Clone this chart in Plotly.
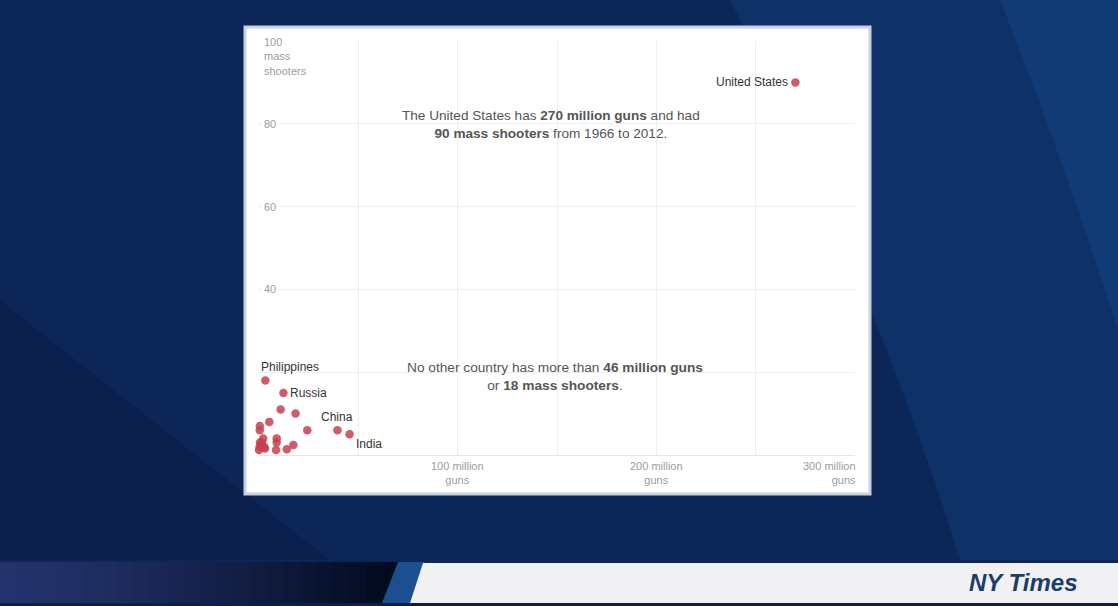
import plotly.graph_objects as go

# guns (millions) vs mass shooters 1966-2012
countries = ["United States", "Philippines", "Russia", "", "", "", "", "", "",
             "China", "India", "", "", "", "", "", "", "", "", "", "", "", "", ""]
guns = [270, 3.2, 12.3, 10.9, 18.4, 5.2, 0.4, 0.4, 24.3,
        39.5, 45.6, 2.1, 8.9, 8.9, 0.5, 1.5, 0.3, 1.2, 2.6, 17.3, 14.0, 8.6, 0.0, 3.0]
shooters = [90, 18, 15, 11, 10, 8, 7, 6, 6,
            6, 5, 4, 4, 3, 3, 3, 2, 2, 2, 2.4, 1.4, 1.2, 1.2, 1.6]

x_ticks = [100, 200, 300]
x_tick_labels = ["100 million<br>guns", "200 million<br>guns", "300 million<br>guns"]
y_ticks = [40, 60, 80, 100]
y_tick_labels = ["40", "60", "80", "100<br>mass<br>shooters"]

W, H = 1118, 606
L, R, T, B = 259, 855, 41, 455   # plot area in pixels
FONT = "Liberation Sans"


def px(x):
    return (x - L) / (R - L)


def py(y):
    return (B - y) / (B - T)


def mix(c1, c2, t):
    a = [int(c1[i:i + 2], 16) for i in (1, 3, 5)]
    b = [int(c2[i:i + 2], 16) for i in (1, 3, 5)]
    return "#%02x%02x%02x" % tuple(round(p + (q - p) * t) for p, q in zip(a, b))


fig = go.Figure()

fig.add_trace(go.Scatter(
    x=guns, y=shooters, mode="markers",
    marker=dict(size=8.5, color="#c8404f", opacity=0.85, line=dict(width=0)),
    hoverinfo="skip", cliponaxis=False,
))

shapes = []
# background stripes
shapes.append(dict(type="path", xref="paper", yref="paper", layer="below",
                   path=f"M {px(730)} {py(0)} L {px(1118)} {py(0)} L {px(1118)} {py(560)} "
                        f"L {px(960)} {py(560)} Q {px(880)} {py(300)} {px(730)} {py(0)} Z",
                   fillcolor="#0e3168", line=dict(width=0)))
shapes.append(dict(type="path", xref="paper", yref="paper", layer="below",
                   path=f"M {px(1000)} {py(0)} L {px(1118)} {py(0)} L {px(1118)} {py(330)} "
                        f"Q {px(1060)} {py(150)} {px(1000)} {py(0)} Z",
                   fillcolor="#123a74", line=dict(width=0)))
shapes.append(dict(type="path", xref="paper", yref="paper", layer="below",
                   path=f"M {px(0)} {py(300)} L {px(0)} {py(560)} L {px(330)} {py(560)} "
                        f"Q {px(150)} {py(420)} {px(0)} {py(300)} Z",
                   fillcolor="#0a1f4c", line=dict(width=0)))
# white chart card
shapes.append(dict(type="rect", xref="paper", yref="paper", layer="below",
                   x0=px(245), x1=px(870), y0=py(494), y1=py(27),
                   fillcolor="white", line=dict(color="#c9d2de", width=3)))
# lower banner: dark gradient strip on the left
steps = 24
for i in range(steps):
    x0 = 400 * i / steps
    x1 = 400 * (i + 1) / steps + 1
    shapes.append(dict(type="rect", xref="paper", yref="paper", layer="below",
                       x0=px(x0), x1=px(x1), y0=py(603), y1=py(562),
                       fillcolor=mix("#24336c", "#020a1e", (i / (steps - 1)) ** 1.3),
                       line=dict(width=0)))
shapes.append(dict(type="path", xref="paper", yref="paper", layer="below",
                   path=f"M {px(382)} {py(603)} L {px(398)} {py(562)} L {px(425)} {py(562)} "
                        f"L {px(410)} {py(603)} Z",
                   fillcolor="#1b4f8f", line=dict(width=0)))
shapes.append(dict(type="path", xref="paper", yref="paper", layer="below",
                   path=f"M {px(410)} {py(603)} L {px(423)} {py(563)} L {px(1118)} {py(563)} "
                        f"L {px(1118)} {py(603)} Z",
                   fillcolor="#f1f1f3", line=dict(width=0)))
shapes.append(dict(type="rect", xref="paper", yref="paper", layer="below",
                   x0=px(0), x1=px(1118), y0=py(606), y1=py(603),
                   fillcolor="#0a1f4c", line=dict(width=0)))

annotations = []
# y tick labels
for v, lab in zip(y_ticks, y_tick_labels):
    annotations.append(dict(x=0.005, y=v, xref="paper", yref="y", text=lab,
                            showarrow=False, xanchor="left", yanchor="top" if v == 100 else "middle",
                            yshift=7 if v == 100 else 0, align="left", bgcolor="white",
                            font=dict(family=FONT, size=11, color="#9c9c9c")))
# x tick labels
for v, lab in zip(x_ticks, x_tick_labels):
    last = v == x_ticks[-1]
    annotations.append(dict(x=v, y=0, xref="x", yref="y", text=lab, showarrow=False,
                            xanchor="right" if last else "center", yanchor="top",
                            xshift=3 if last else 0, yshift=-3,
                            align="right" if last else "center",
                            font=dict(family=FONT, size=11, color="#9c9c9c")))

# country labels
label_style = {
    "United States": dict(xanchor="right", yanchor="middle", xshift=-5, yshift=0),
    "Philippines": dict(xanchor="left", yanchor="bottom", xshift=-6, yshift=4),
    "Russia": dict(xanchor="left", yanchor="middle", xshift=5, yshift=0),
    "China": dict(xanchor="center", yanchor="bottom", xshift=0, yshift=4),
    "India": dict(xanchor="left", yanchor="top", xshift=4, yshift=-1),
}
for name, gx, sy in zip(countries, guns, shooters):
    if name:
        annotations.append(dict(x=gx, y=sy, xref="x", yref="y", text=name, showarrow=False,
                                font=dict(family=FONT, size=12, color="#333333"),
                                **label_style[name]))

# notes
annotations.append(dict(x=147, y=79.8, xref="x", yref="y", showarrow=False, align="center",
                        text="The United States has <b>270 million guns</b> and had<br>"
                             "<b>90 mass shooters</b> from 1966 to 2012.",
                        font=dict(family=FONT, size=13.6, color="#555555")))
annotations.append(dict(x=149, y=18.9, xref="x", yref="y", showarrow=False, align="center",
                        text="No other country has more than <b>46 million guns</b><br>"
                             "or <b>18 mass shooters</b>.",
                        font=dict(family=FONT, size=13.7, color="#555555")))
# banner text
annotations.append(dict(x=px(1023), y=py(582), xref="paper", yref="paper", showarrow=False,
                        xanchor="center", yanchor="middle",
                        text="<b><i>NY Times</i></b>",
                        font=dict(family=FONT, size=24, color="#1c3d6c")))

fig.update_layout(
    width=W, height=H,
    margin=dict(l=L, r=W - R, t=T, b=H - B, pad=0),
    paper_bgcolor="#0b2657",
    plot_bgcolor="white",
    showlegend=False,
    shapes=shapes,
    annotations=annotations,
    xaxis=dict(range=[0, 300], dtick=50, showticklabels=False, ticks="",
               showgrid=True, gridcolor="#eeeeee", gridwidth=1, zeroline=False,
               showline=False, fixedrange=True),
    yaxis=dict(range=[0, 100], dtick=20, showticklabels=False, ticks="",
               showgrid=True, gridcolor="#eeeeee", gridwidth=1, zeroline=True,
               zerolinecolor="#e4e4e4", zerolinewidth=1, showline=False, fixedrange=True),
)

fig.write_html("out.html", config={"displayModeBar": False},
               post_script="document.body.style.margin='0';document.body.style.overflow='hidden';")
